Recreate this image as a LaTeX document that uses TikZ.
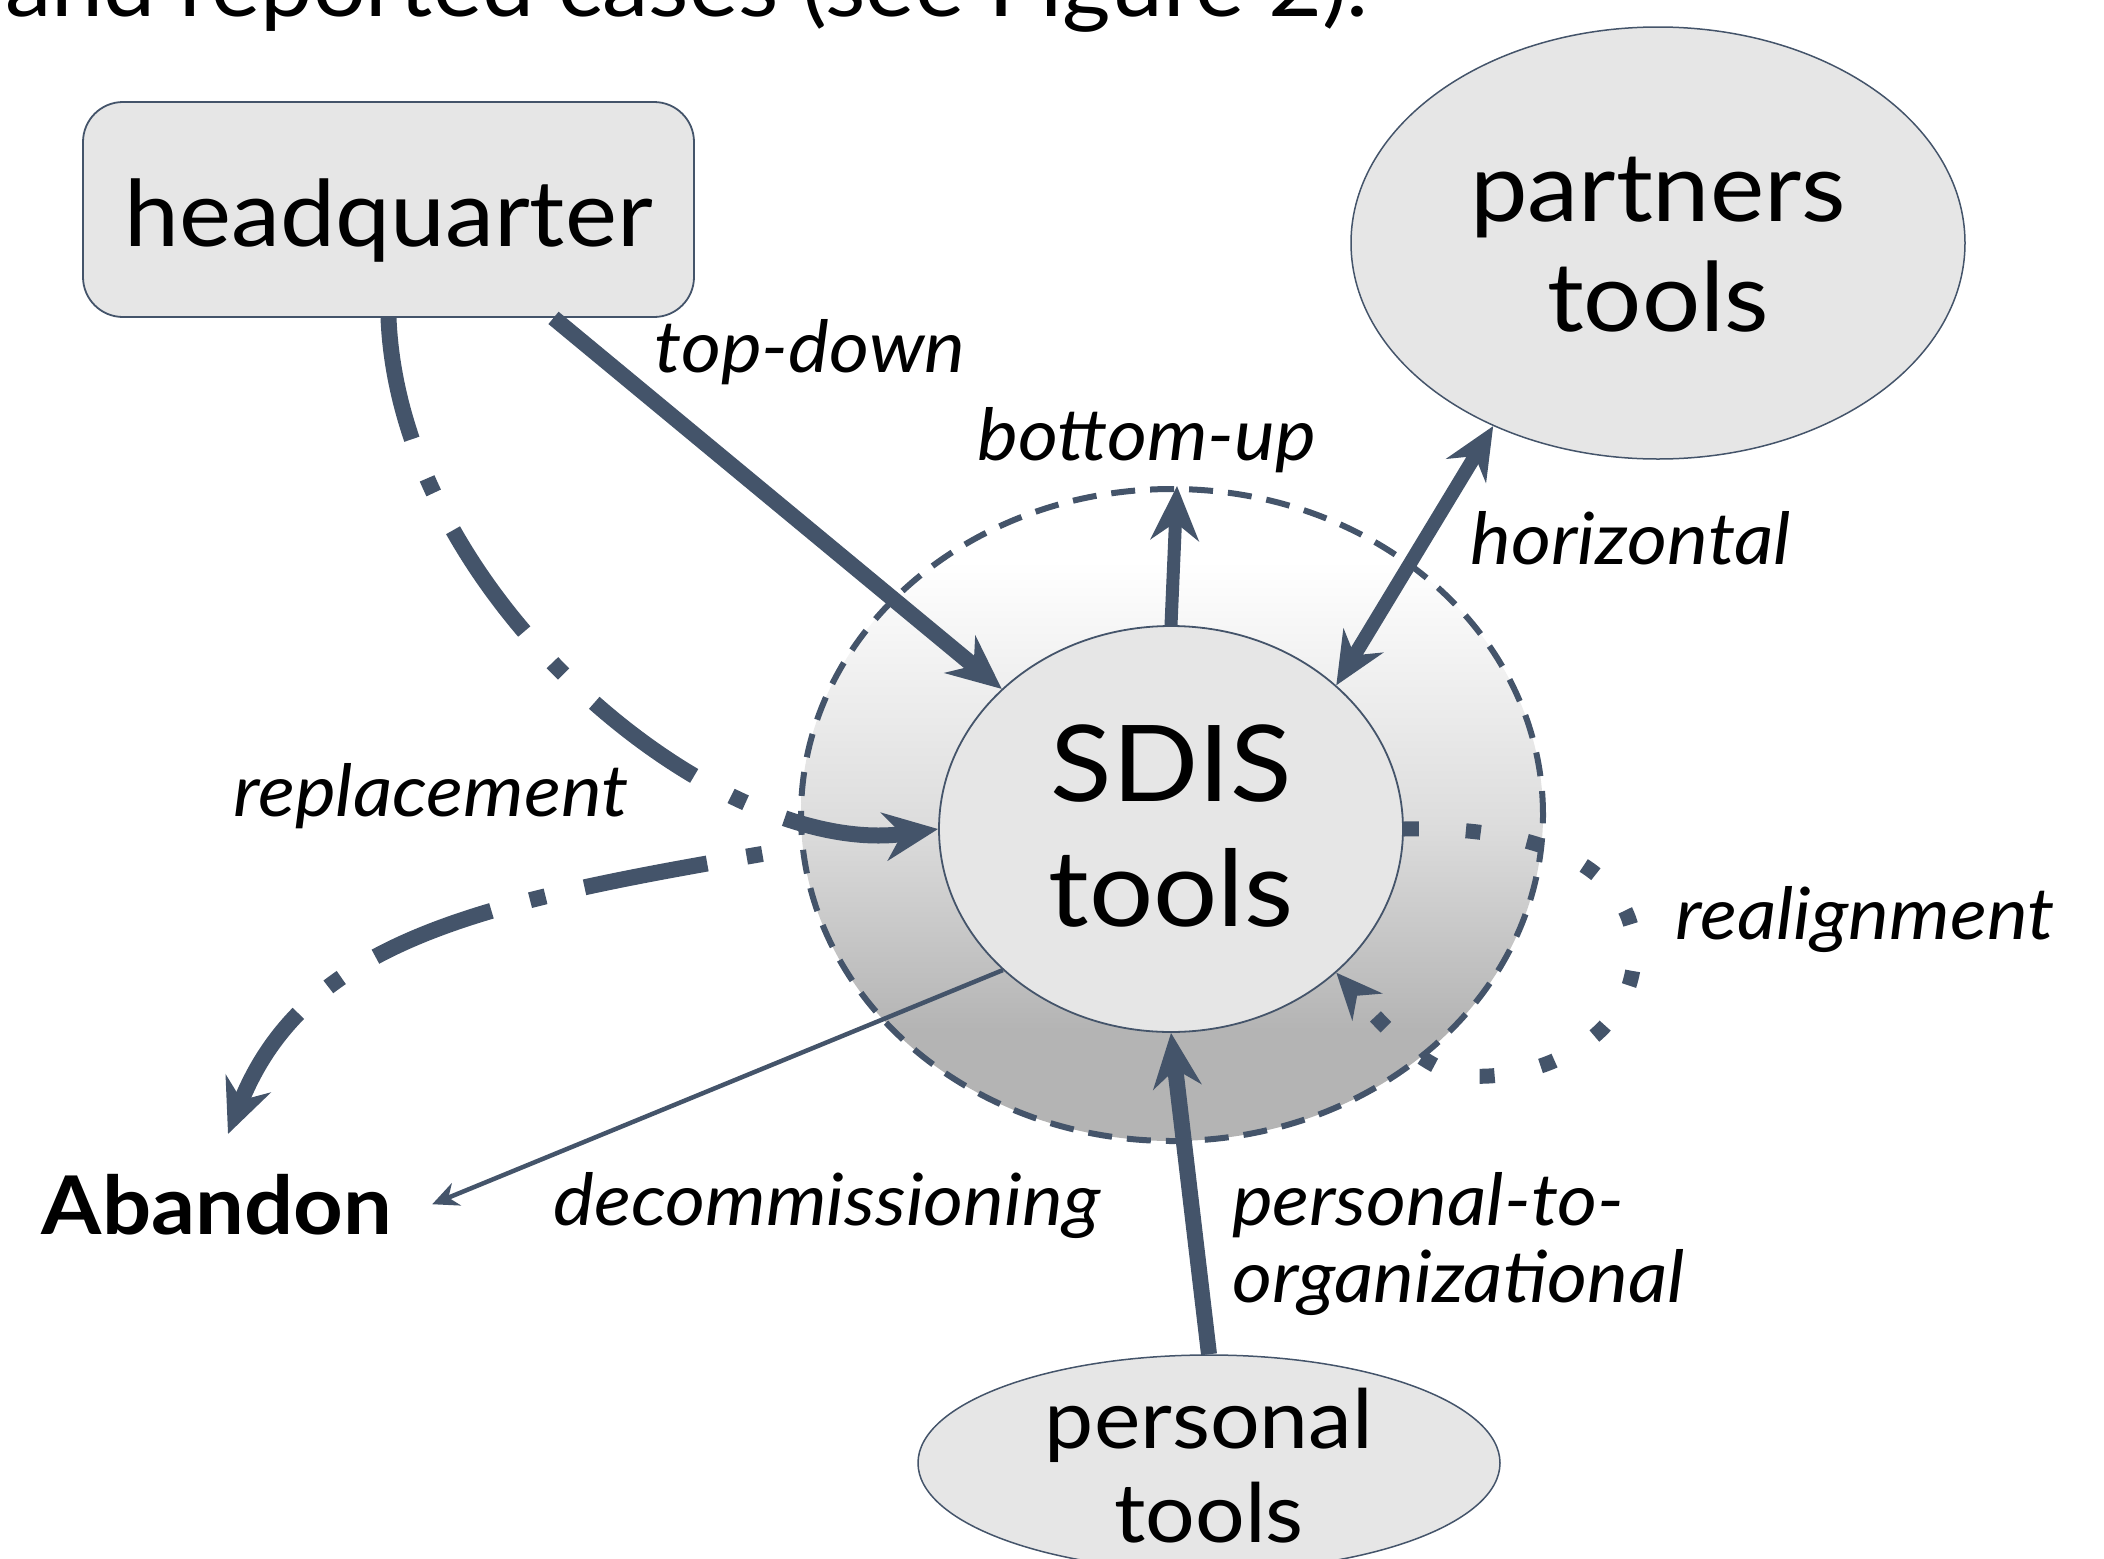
\documentclass[tikz,border=0pt]{standalone}
\usepackage{fontspec}
\setmainfont{Lato}[FakeStretch=1.07]
\usetikzlibrary{arrows.meta,calc,shapes.geometric}
\definecolor{slate}{HTML}{44546A}
\definecolor{nodefill}{HTML}{E6E6E6}
\definecolor{zb}{HTML}{B4B4B4}
\definecolor{zm}{HTML}{DCDCDC}
\pgfdeclareverticalshading{zoneshade}{100bp}{color(0bp)=(zb); color(33.5bp)=(zb); color(49bp)=(zm); color(69.5bp)=(white); color(100bp)=(white)}
\begin{document}
\begin{tikzpicture}[x=1pt,y=-1pt,
  box/.style={draw=slate, line width=1.8pt, fill=nodefill},
  oval/.style={box, ellipse, inner sep=0pt},
  lbl/.style={font=\fontsize{72}{77}\selectfont\itshape, anchor=base, inner sep=0pt},
  flow/.style={draw=slate, line width=16pt},
  tip/.style={-{Stealth[length=54pt,width=48pt]}},
]
\useasboundingbox (0,0) rectangle (2104,1558);
\clip (0,0) rectangle (2104,1558);

\node[font=\fontsize{87}{100}\selectfont, anchor=base east, inner sep=0pt] (intro) at (1369,16) {and reported cases (see Figure 2).};

\node[draw=slate, line width=6pt, dash pattern=on 24pt off 15pt, ellipse, minimum width=742pt, minimum height=652pt, shade, shading=zoneshade, inner sep=0pt] (zone) at (1172,815) {};

\node[oval, minimum width=464pt, minimum height=406pt,
  label={[font=\fontsize{106}{125}\selectfont, yshift=-9.5pt]center:{\begin{tabular}{@{}c@{}}SDIS\\tools\end{tabular}}}] (sdis) at (1171,829) {};

\node[box, rounded corners=40pt, minimum width=611pt, minimum height=215pt, inner sep=0pt,
  label={[font=\fontsize{92}{110}\selectfont, yshift=-14.5pt]center:{\begin{tabular}{@{}c@{}}headquarter\end{tabular}}}] (hq) at (388.5,209.5) {};

\node[oval, line width=1.5pt, minimum width=614pt, minimum height=432pt,
  label={[font=\fontsize{96}{110}\selectfont, yshift=-11pt]center:{\begin{tabular}{@{}c@{}}partners\\tools\end{tabular}}}] (partners) at (1658,243) {};

\node[oval, line width=1.5pt, minimum width=582pt, minimum height=216pt,
  label={[font=\fontsize{82}{94}\selectfont, yshift=-14pt]center:{\begin{tabular}{@{}c@{}}personal\\tools\end{tabular}}}] (personal) at (1209,1463) {};

\node[font=\fontsize{81}{90}\selectfont\bfseries, anchor=base, inner sep=0pt] (abandon) at (217,1234) {Abandon};

\node[lbl] (ltd) at (810,372) {top-down};
\node[lbl] (lbu) at (1147,460) {bottom-up};
\node[lbl] (lhz) at (1631,564) {horizontal};
\node[lbl] (lrp) at (431,816) {replacement};
\node[lbl] (lra) at (1865,939) {realignment};
\node[lbl] (ldc) at (827,1225) {decommissioning};
\node[lbl, anchor=base west] (lpo) at (1232,1225) {\begin{tabular}[t]{@{}l@{}}personal-to-\\organizational\end{tabular}};

\coordinate (tdstart) at ($(hq.south)+(165,0)$);
\coordinate (abtip) at (228,1134);

% top-down
\draw[flow, tip] (tdstart) -- (sdis);
% bottom-up
\draw[flow, line width=13pt, tip] (sdis.north) -- ([xshift=5pt]zone.north);
% horizontal
\draw[flow, line width=14pt, {Stealth[length=52pt,width=46pt]}-{Stealth[length=52pt,width=46pt]}] (sdis.41) -- (partners.228);
% personal-to-organizational
\draw[flow, tip] (personal.north) -- (sdis.south);
% decommissioning
\draw[draw=slate, line width=4.5pt, -{Stealth[length=26pt,width=24pt]}] (sdis.220) -- ([xshift=40pt]abandon.east);
% replacement
\draw[flow, dash pattern=on 124pt off 42pt on 16pt off 42pt, tip] (hq.south) .. controls (400,600) and (720,860) .. (sdis.west);
% abandon
\draw[flow, dash pattern=on 16pt off 40pt on 125pt off 40pt, dash phase=183pt, tip] (zone.185) .. controls (495,899) and (308,934) .. (abtip);
% realignment
\draw[draw=slate, line width=15pt, dash pattern=on 15pt off 47pt, -{Stealth[length=46pt,width=40pt]}] (sdis.east) .. controls (1560,825) and (1640,880) .. (1634,960) .. controls (1628,1040) and (1540,1080) .. (1469,1076) .. controls (1420,1073) and (1370,1010) .. (sdis.-41);
\end{tikzpicture}
\end{document}
